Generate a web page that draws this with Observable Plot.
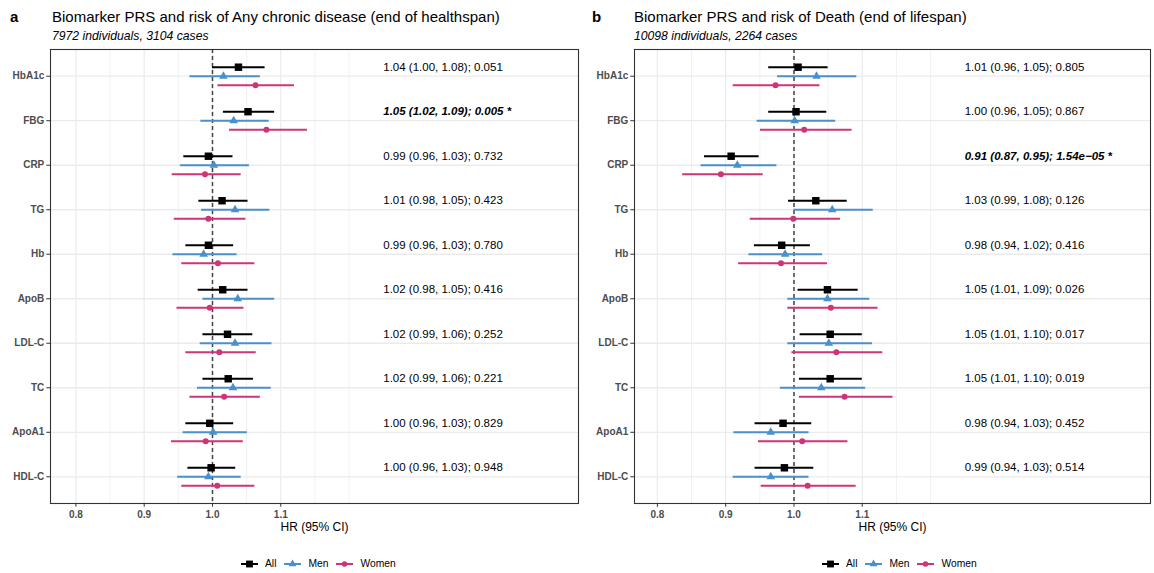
<!DOCTYPE html>
<html><head><meta charset="utf-8">
<script src="https://cdn.jsdelivr.net/npm/d3@7"></script>
<script src="https://cdn.jsdelivr.net/npm/@observablehq/plot@0.6"></script>
<style>
body{margin:0;background:#fff;font-family:"Liberation Sans",Arial,Helvetica,sans-serif;}
#root{position:relative;width:1154px;height:573px;overflow:hidden;background:#fff}
.panel{position:absolute;top:0;height:573px}
.tag{position:absolute;top:8px;font-weight:bold;font-size:15px;line-height:18px;color:#000}
.title{position:absolute;top:8px;font-size:15px;line-height:18px;color:#000;white-space:nowrap}
.sub{position:absolute;top:28.5px;font-size:12.2px;line-height:14px;font-style:italic;color:#000;white-space:nowrap}
.chart{position:absolute;top:45px;left:0;line-height:0}
.legend{position:absolute;top:558px;display:flex;align-items:center;font-size:10.3px;color:#000;white-space:nowrap}
.legend .item{display:flex;align-items:center;margin-right:8px}
.legend svg{margin-right:7px}
svg [aria-label="x-axis label"] text{font-size:12px;font-weight:normal;fill:#000}
svg [aria-label="x-axis tick label"] text, svg [aria-label="y-axis tick label"] text{fill:#4D4D4D}
</style>
</head><body><div id="root"></div>
<script>
// ---------- data ----------
const biomarkers = ["HbA1c","FBG","CRP","TG","Hb","ApoB","LDL-C","TC","ApoA1","HDL-C"];
const groups = ["All","Men","Women"];

// Panel a: Any chronic disease (end of healthspan)
const healthAllHR  = [1.038,1.052,0.994,1.014,0.994,1.015,1.022,1.023,0.996,0.998];
const healthAllLo  = [1.000,1.016,0.958,0.980,0.961,0.979,0.986,0.986,0.961,0.964];
const healthAllHi  = [1.077,1.091,1.030,1.052,1.031,1.052,1.059,1.060,1.031,1.034];
const healthMenHR  = [1.016,1.031,1.002,1.033,0.987,1.037,1.033,1.030,1.001,0.994];
const healthMenLo  = [0.967,0.983,0.953,0.984,0.942,0.986,0.982,0.978,0.957,0.949];
const healthMenHi  = [1.070,1.083,1.054,1.084,1.036,1.091,1.087,1.086,1.051,1.042];
const healthWomHR  = [1.063,1.079,0.989,0.994,1.008,0.996,1.010,1.017,0.990,1.007];
const healthWomLo  = [1.008,1.025,0.941,0.944,0.955,0.948,0.961,0.967,0.940,0.955];
const healthWomHi  = [1.120,1.139,1.042,1.049,1.062,1.046,1.064,1.070,1.045,1.062];
const healthLabels = ["1.04 (1.00, 1.08); 0.051","1.05 (1.02, 1.09); 0.005 *","0.99 (0.96, 1.03); 0.732",
  "1.01 (0.98, 1.05); 0.423","0.99 (0.96, 1.03); 0.780","1.02 (0.98, 1.05); 0.416","1.02 (0.99, 1.06); 0.252",
  "1.02 (0.99, 1.06); 0.221","1.00 (0.96, 1.03); 0.829","1.00 (0.96, 1.03); 0.948"];
const healthSig = [false,true,false,false,false,false,false,false,false,false];

// Panel b: Death (end of lifespan)
const deathAllHR  = [1.006,1.003,0.908,1.032,0.982,1.049,1.053,1.053,0.984,0.986];
const deathAllLo  = [0.963,0.963,0.869,0.992,0.942,1.006,1.009,1.008,0.943,0.943];
const deathAllHi  = [1.050,1.048,0.949,1.078,1.024,1.094,1.100,1.100,1.026,1.029];
const deathMenHR  = [1.033,1.001,0.917,1.056,0.987,1.049,1.051,1.040,0.966,0.966];
const deathMenLo  = [0.976,0.946,0.864,1.000,0.934,0.991,0.991,0.980,0.912,0.911];
const deathMenHi  = [1.092,1.061,0.975,1.116,1.042,1.111,1.115,1.105,1.022,1.022];
const deathWomHR  = [0.973,1.015,0.893,0.999,0.981,1.054,1.062,1.074,1.012,1.020];
const deathWomLo  = [0.911,0.951,0.837,0.936,0.919,0.991,0.997,1.008,0.948,0.952];
const deathWomHi  = [1.038,1.085,0.955,1.068,1.049,1.123,1.130,1.145,1.079,1.091];
const deathLabels = ["1.01 (0.96, 1.05); 0.805","1.00 (0.96, 1.05); 0.867","0.91 (0.87, 0.95); 1.54e\u221205 *",
  "1.03 (0.99, 1.08); 0.126","0.98 (0.94, 1.02); 0.416","1.05 (1.01, 1.09); 0.026","1.05 (1.01, 1.10); 0.017",
  "1.05 (1.01, 1.10); 0.019","0.98 (0.94, 1.03); 0.452","0.99 (0.94, 1.03); 0.514"];
const deathSig = [false,false,true,false,false,false,false,false,false,false];

const xTicks = [0.8,0.9,1.0,1.1];
const xGridMajor = [0.8,0.9,1.0,1.1];
const xGridMinor = [0.85,0.95,1.05,1.15,1.2];
const labelX = 1.25;

// ---------- styles ----------
const colors = {All:"#000000", Men:"#4A90CD", Women:"#CE3478"};
const symbols = {All:"square", Men:"triangle", Women:"circle"};
const sizes = {All:4.2, Men:3.2, Women:3};
const offsets = {All:-9, Men:0, Women:9};

function rows(hr, lo, hi) {
  return biomarkers.map((b,i)=>({biomarker:b, hr:hr[i], lo:lo[i], hi:hi[i]}));
}

function makePanel(cfg) {
  const series = {
    All: rows(cfg.allHR, cfg.allLo, cfg.allHi),
    Men: rows(cfg.menHR, cfg.menLo, cfg.menHi),
    Women: rows(cfg.womHR, cfg.womLo, cfg.womHi)
  };
  const ann = biomarkers.map((b,i)=>({biomarker:b, text:cfg.labels[i], sig:cfg.sig[i], x:labelX}));
  const marks = [
    Plot.ruleX(xGridMinor, {stroke:"#EBEBEB", strokeWidth:0.7}),
    Plot.ruleX(xGridMajor, {stroke:"#EBEBEB", strokeWidth:1.2}),
    Plot.gridY({stroke:"#EBEBEB", strokeOpacity:1, strokeWidth:1.3}),
    Plot.ruleX([1], {stroke:"#444", strokeWidth:1.5, strokeDasharray:"4,3"})
  ];
  for (const g of groups) {
    marks.push(Plot.ruleY(series[g], {y:"biomarker", x1:"lo", x2:"hi", dy:offsets[g], stroke:colors[g], strokeWidth:2}));
    marks.push(Plot.dot(series[g], {x:"hr", y:"biomarker", dy:offsets[g], symbol:()=>symbols[g], fill:colors[g], stroke:"none", r:sizes[g]}));
  }
  marks.push(Plot.text(ann.filter(d=>!d.sig), {x:"x", y:"biomarker", dy:offsets.All, text:"text", textAnchor:"start", fontSize:11.5, fill:"#000"}));
  marks.push(Plot.text(ann.filter(d=>d.sig), {x:"x", y:"biomarker", dy:offsets.All, text:"text", textAnchor:"start", fontSize:11.5, fill:"#000", fontWeight:"bold", fontStyle:"italic"}));
  marks.push(Plot.frame({stroke:"#333", strokeWidth:1.1}));
  marks.push(Plot.axisX({ticks:xTicks, tickFormat:d3.format(".1f"), tickSize:3.7, tickPadding:3.5, fontSize:10, fontWeight:"bold", stroke:"#333",
    label:"HR (95% CI)", labelAnchor:"center", labelArrow:"none", labelOffset:27}));
  marks.push(Plot.axisY({tickSize:3.7, tickPadding:2.5, fontSize:10, fontWeight:"bold", stroke:"#333", label:null}));
  return Plot.plot({
    width: cfg.width, height: 490,
    marginLeft: cfg.marginLeft, marginRight: cfg.marginRight, marginTop: 4, marginBottom: 32,
    style: {fontFamily:'"Liberation Sans",Arial,Helvetica,sans-serif', background:"transparent", overflow:"visible"},
    x: {domain: cfg.xDomain},
    y: {type:"point", domain: biomarkers, padding: 0.6, round: false},
    symbol: {type:"identity"},
    marks
  });
}

function legend() {
  const el = document.createElement("div");
  el.className = "legend";
  for (const g of groups) {
    const item = document.createElement("div");
    item.className = "item";
    const ns = "http://www.w3.org/2000/svg";
    const svg = document.createElementNS(ns, "svg");
    svg.setAttribute("width", 17); svg.setAttribute("height", 10);
    const line = document.createElementNS(ns, "line");
    line.setAttribute("x1",0); line.setAttribute("x2",17); line.setAttribute("y1",5); line.setAttribute("y2",5);
    line.setAttribute("stroke", colors[g]); line.setAttribute("stroke-width", 2);
    svg.appendChild(line);
    const p = document.createElementNS(ns, "path");
    const sym = {square:d3.symbolSquare, triangle:d3.symbolTriangle, circle:d3.symbolCircle}[symbols[g]];
    p.setAttribute("d", d3.symbol(sym, Math.PI*sizes[g]*sizes[g]*0.85)());
    p.setAttribute("transform","translate(8.5,5)");
    p.setAttribute("fill", colors[g]);
    svg.appendChild(p);
    item.appendChild(svg);
    const t = document.createElement("span"); t.textContent = g;
    item.appendChild(t);
    el.appendChild(item);
  }
  return el;
}

function buildPanel(left, width, tag, title, sub, plot, legendLeft, titleLeft) {
  const p = document.createElement("div");
  p.className = "panel"; p.style.left = left+"px"; p.style.width = width+"px";
  const a = document.createElement("div"); a.className="tag"; a.style.left = (titleLeft-42)+"px"; a.textContent = tag; p.appendChild(a);
  const t = document.createElement("div"); t.className="title"; t.style.left = titleLeft+"px"; t.textContent = title; p.appendChild(t);
  const s = document.createElement("div"); s.className="sub"; s.style.left = titleLeft+"px"; s.textContent = sub; p.appendChild(s);
  const c = document.createElement("div"); c.className="chart"; c.appendChild(plot); p.appendChild(c);
  const l = legend(); l.style.left = legendLeft+"px"; p.appendChild(l);
  document.getElementById("root").appendChild(p);
}

const plotA = makePanel({width:580, marginLeft:50, marginRight:2, xDomain:[0.7628,1.5359],
  allHR:healthAllHR, allLo:healthAllLo, allHi:healthAllHi, menHR:healthMenHR, menLo:healthMenLo, menHi:healthMenHi,
  womHR:healthWomHR, womLo:healthWomLo, womHi:healthWomHi, labels:healthLabels, sig:healthSig});
const plotB = makePanel({width:574, marginLeft:54, marginRight:4, xDomain:[0.7665,1.522],
  allHR:deathAllHR, allLo:deathAllLo, allHi:deathAllHi, menHR:deathMenHR, menLo:deathMenLo, menHi:deathMenHi,
  womHR:deathWomHR, womLo:deathWomLo, womHi:deathWomHi, labels:deathLabels, sig:deathSig});

buildPanel(0, 580, "a", "Biomarker PRS and risk of Any chronic disease (end of healthspan)", "7972 individuals, 3104 cases", plotA, 241, 52);
buildPanel(580, 574, "b", "Biomarker PRS and risk of Death (end of lifespan)", "10098 individuals, 2264 cases", plotB, 242, 54);
</script></body></html>
